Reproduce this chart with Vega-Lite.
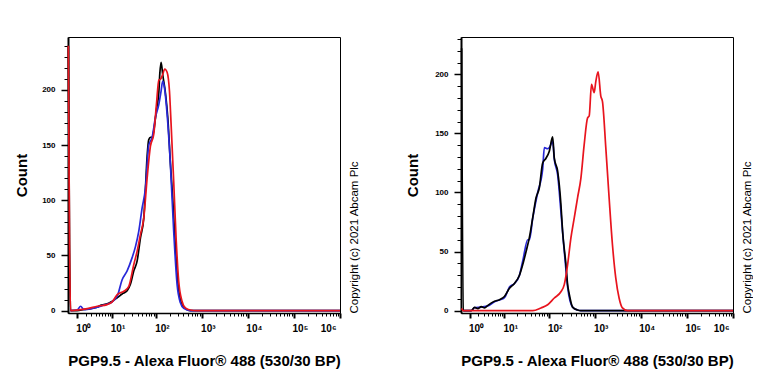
{
  "$schema": "https://vega.github.io/schema/vega-lite/v6.json",
  "background": "white",
  "padding": {"left": 14, "top": 36, "right": 0, "bottom": 0},
  "config": {
    "view": {"stroke": "#000", "strokeWidth": 1},
    "axis": {"grid": false, "domainColor": "#000", "tickColor": "#000", "labelColor": "#000", "titleColor": "#000", "labelFont": "Liberation Sans", "titleFont": "Liberation Sans"}
  },
  "datasets": {
    "left": [
      {"s":"black","x":0.27,"y":240},{"s":"black","x":0.35,"y":60},{"s":"black","x":0.42,"y":0},{"s":"black","x":0.98,"y":0},{"s":"black","x":1.77,"y":1},{"s":"black","x":2.86,"y":1.8},{"s":"black","x":3.56,"y":2.4},{"s":"black","x":4.39,"y":3},{"s":"black","x":5.36,"y":4.8},{"s":"black","x":6.5,"y":5.4},{"s":"black","x":7.86,"y":6.1},{"s":"black","x":10.4,"y":8.5},{"s":"black","x":13.6,"y":11.5},{"s":"black","x":17.7,"y":15},{"s":"black","x":19.4,"y":16},{"s":"black","x":23,"y":18},{"s":"black","x":27.4,"y":24},{"s":"black","x":32.5,"y":36},{"s":"black","x":38.6,"y":45},{"s":"black","x":45.7,"y":66},{"s":"black","x":54.2,"y":84},{"s":"black","x":59,"y":111},{"s":"black","x":64.2,"y":140},{"s":"black","x":69.8,"y":155},{"s":"black","x":75.9,"y":157},{"s":"black","x":82.6,"y":157},{"s":"black","x":89.8,"y":163},{"s":"black","x":102.8,"y":182},{"s":"black","x":116,"y":198},{"s":"black","x":122,"y":215},{"s":"black","x":130,"y":225},{"s":"black","x":141,"y":214},{"s":"black","x":162,"y":197},{"s":"black","x":182,"y":175},{"s":"black","x":208,"y":133},{"s":"black","x":233,"y":102},{"s":"black","x":267,"y":57},{"s":"black","x":315,"y":18},{"s":"black","x":372,"y":5.4},{"s":"black","x":478,"y":1},{"s":"black","x":565,"y":0},{"s":"black","x":1000000,"y":0},
      {"s":"blue","x":0.42,"y":0},{"s":"blue","x":0.98,"y":0.5},{"s":"blue","x":1.35,"y":3.9},{"s":"blue","x":1.77,"y":0.9},{"s":"blue","x":2.86,"y":1.5},{"s":"blue","x":4.39,"y":3},{"s":"blue","x":6.5,"y":5},{"s":"blue","x":9.47,"y":7},{"s":"blue","x":13.6,"y":13},{"s":"blue","x":17.7,"y":28},{"s":"blue","x":23,"y":36},{"s":"blue","x":29.8,"y":48},{"s":"blue","x":35.4,"y":58},{"s":"blue","x":42,"y":72},{"s":"blue","x":49.8,"y":93},{"s":"blue","x":59,"y":111},{"s":"blue","x":69.8,"y":150},{"s":"blue","x":82.6,"y":157},{"s":"blue","x":97.7,"y":175},{"s":"blue","x":116,"y":187},{"s":"blue","x":130,"y":199},{"s":"blue","x":141,"y":208},{"s":"blue","x":154,"y":202},{"s":"blue","x":176,"y":178},{"s":"blue","x":208,"y":132},{"s":"blue","x":245,"y":72},{"s":"blue","x":290,"y":24},{"s":"blue","x":343,"y":7},{"s":"blue","x":405,"y":2},{"s":"blue","x":565,"y":0},{"s":"blue","x":1000000,"y":0},
      {"s":"red","x":0.27,"y":240},{"s":"red","x":0.35,"y":60},{"s":"red","x":0.42,"y":0},{"s":"red","x":1.35,"y":0.9},{"s":"red","x":2.27,"y":1.8},{"s":"red","x":4.39,"y":3.9},{"s":"red","x":7.86,"y":5.4},{"s":"red","x":10.4,"y":7.9},{"s":"red","x":13.6,"y":14.5},{"s":"red","x":19.4,"y":17.5},{"s":"red","x":25.1,"y":22},{"s":"red","x":32.5,"y":41.8},{"s":"red","x":38.6,"y":53.9},{"s":"red","x":45.7,"y":69},{"s":"red","x":54.2,"y":84},{"s":"red","x":64.2,"y":120},{"s":"red","x":75.9,"y":149},{"s":"red","x":89.8,"y":160},{"s":"red","x":102.8,"y":187},{"s":"red","x":116,"y":209},{"s":"red","x":126,"y":209.7},{"s":"red","x":141,"y":214},{"s":"red","x":156,"y":219},{"s":"red","x":176,"y":216},{"s":"red","x":198,"y":199},{"s":"red","x":215,"y":169},{"s":"red","x":245,"y":117},{"s":"red","x":276,"y":66},{"s":"red","x":315,"y":26.6},{"s":"red","x":372,"y":8.5},{"s":"red","x":440,"y":2.4},{"s":"red","x":565,"y":0.5},{"s":"red","x":789,"y":0},{"s":"red","x":1000000,"y":0}
    ],
    "right": [
      {"s":"black","x":0.31,"y":222},{"s":"black","x":0.42,"y":0},{"s":"black","x":1.12,"y":0},{"s":"black","x":1.5,"y":2.8},{"s":"black","x":1.95,"y":1.7},{"s":"black","x":2.49,"y":3.4},{"s":"black","x":3.12,"y":2.3},{"s":"black","x":3.86,"y":4.5},{"s":"black","x":5.77,"y":7.9},{"s":"black","x":7.68,"y":9.3},{"s":"black","x":10.1,"y":12},{"s":"black","x":13.3,"y":19},{"s":"black","x":17.3,"y":23},{"s":"black","x":22.5,"y":30},{"s":"black","x":26.7,"y":39},{"s":"black","x":31.7,"y":50},{"s":"black","x":37.6,"y":62},{"s":"black","x":44.5,"y":78.5},{"s":"black","x":52.8,"y":95.5},{"s":"black","x":62.4,"y":104},{"s":"black","x":73.9,"y":125},{"s":"black","x":87.4,"y":129},{"s":"black","x":103.3,"y":135},{"s":"black","x":122.1,"y":147},{"s":"black","x":132.8,"y":129},{"s":"black","x":157,"y":118},{"s":"black","x":185,"y":90},{"s":"black","x":201.5,"y":67},{"s":"black","x":238,"y":39},{"s":"black","x":259,"y":22},{"s":"black","x":281,"y":14},{"s":"black","x":332,"y":3},{"s":"black","x":426,"y":0.5},{"s":"black","x":503,"y":0},{"s":"black","x":1000000,"y":0},
      {"s":"blue","x":0.42,"y":0},{"s":"blue","x":1.12,"y":0},{"s":"blue","x":1.5,"y":2.5},{"s":"blue","x":2.49,"y":3},{"s":"blue","x":3.86,"y":4},{"s":"blue","x":5.77,"y":7.5},{"s":"blue","x":7.68,"y":9},{"s":"blue","x":10.1,"y":11},{"s":"blue","x":13.3,"y":20},{"s":"blue","x":17.3,"y":23},{"s":"blue","x":22.5,"y":30},{"s":"blue","x":26.7,"y":42},{"s":"blue","x":34.5,"y":60},{"s":"blue","x":37.6,"y":60},{"s":"blue","x":44.5,"y":78},{"s":"blue","x":57.4,"y":100},{"s":"blue","x":73.9,"y":120},{"s":"blue","x":80.4,"y":138},{"s":"blue","x":95,"y":137},{"s":"blue","x":103.3,"y":138},{"s":"blue","x":122.1,"y":143},{"s":"blue","x":132.8,"y":128},{"s":"blue","x":157,"y":115},{"s":"blue","x":185,"y":84},{"s":"blue","x":208,"y":60},{"s":"blue","x":238,"y":35},{"s":"blue","x":259,"y":20},{"s":"blue","x":332,"y":3},{"s":"blue","x":426,"y":0.5},{"s":"blue","x":503,"y":0},{"s":"blue","x":1000000,"y":0},
      {"s":"red","x":0.31,"y":2},{"s":"red","x":0.42,"y":0},{"s":"red","x":44.5,"y":0},{"s":"red","x":67.9,"y":2.3},{"s":"red","x":95,"y":5},{"s":"red","x":132.8,"y":10.7},{"s":"red","x":185,"y":16},{"s":"red","x":219,"y":22},{"s":"red","x":259,"y":39},{"s":"red","x":305.5,"y":61.6},{"s":"red","x":361,"y":78.5},{"s":"red","x":426,"y":95.5},{"s":"red","x":503,"y":112},{"s":"red","x":594,"y":140.7},{"s":"red","x":701,"y":163},{"s":"red","x":762,"y":164.7},{"s":"red","x":856,"y":191.5},{"s":"red","x":977,"y":184.5},{"s":"red","x":1062,"y":194},{"s":"red","x":1192,"y":202},{"s":"red","x":1362,"y":181.6},{"s":"red","x":1481,"y":177},{"s":"red","x":1747,"y":138},{"s":"red","x":2062,"y":95.5},{"s":"red","x":2434,"y":56},{"s":"red","x":2873,"y":27.7},{"s":"red","x":3392,"y":10.7},{"s":"red","x":4004,"y":2.3},{"s":"red","x":5134,"y":0},{"s":"red","x":1000000,"y":0}
    ]
  },
  "spacing": 45,
  "hconcat": [
    {
      "width": 272, "height": 276,
      "data": {"name": "left"},
      "encoding": {
        "x": {"field": "x", "type": "quantitative",
          "scale": {"type": "symlog", "constant": 1, "domain": [0.25, 1000000], "nice": false},
          "axis": {"values": [1,2,3,4,5,6,7,8,9,10,20,30,40,50,60,70,80,90,100,200,300,400,500,600,700,800,900,1000,2000,3000,4000,5000,6000,7000,8000,9000,10000,20000,30000,40000,50000,60000,70000,80000,90000,100000,200000,300000,400000,500000,600000,700000,800000,900000,1000000],
            "labelExpr": "datum.value==1?'10⁰':datum.value==10?'10¹':datum.value==100?'10²':datum.value==1000?'10³':datum.value==10000?'10⁴':datum.value==100000?'10⁵':datum.value==1000000?'10⁶':''",
            "labelOverlap": false, "labelBound": false,
            "labelFontSize": 10, "labelFontWeight": "bold", "labelPadding": 5,
            "labelOffset": {"condition": {"test": "datum.value==1000000", "value": -4}, "value": 6},
            "tickSize": {"condition": {"test": "indexof([1,10,100,1000,10000,100000,1000000], datum.value) >= 0", "value": 5}, "value": 3},
            "tickWidth": {"condition": {"test": "indexof([1,10,100,1000,10000,100000,1000000], datum.value) >= 0", "value": 2}, "value": 1},
            "domainWidth": 1.5,
            "title": "PGP9.5 - Alexa Fluor® 488 (530/30 BP)", "titleFontSize": 15, "titleFontWeight": "bold", "titlePadding": 20}}
      },
      "layer": [
        {"transform": [{"filter": "datum.s=='black'"}], "mark": {"type": "line", "color": "#000000", "strokeWidth": 1.7, "interpolate": "monotone"},
          "encoding": {"y": {"field": "y", "type": "quantitative", "scale": {"domain": [-2.2, 248], "nice": false, "zero": false},
            "axis": {"values": [0,10,20,30,40,50,60,70,80,90,100,110,120,130,140,150,160,170,180,190,200,210,220,230,240],
              "labelExpr": "datum.value%50==0?datum.label:''", "labelFontSize": 8, "labelFontWeight": "bold", "labelPadding": 6,
              "tickSize": {"condition": {"test": "datum.value%50==0", "value": 7}, "value": 4},
              "tickWidth": {"condition": {"test": "datum.value%50==0", "value": 1.5}, "value": 1},
              "domainWidth": 2,
              "title": "Count", "titleFontSize": 15, "titleFontWeight": "bold", "titlePadding": 12}}}},
        {"transform": [{"filter": "datum.s=='blue'"}], "mark": {"type": "line", "color": "#2828d8", "strokeWidth": 1.7, "interpolate": "monotone"},
          "encoding": {"y": {"field": "y", "type": "quantitative", "axis": null}}},
        {"transform": [{"filter": "datum.s=='red'"}], "mark": {"type": "line", "color": "#e8141e", "strokeWidth": 1.7, "interpolate": "monotone"},
          "encoding": {"y": {"field": "y", "type": "quantitative",
            "axis": {"orient": "right", "ticks": false, "labels": false, "domain": false, "title": "Copyright (c) 2021 Abcam Plc",
              "titleAngle": 270, "titleAnchor": "start", "titleAlign": "left", "titleBaseline": "top", "titlePadding": 8,
              "titleFontSize": 11.5, "titleFontWeight": "normal"}}}}
      ],
      "resolve": {"axis": {"y": "independent"}}
    },
    {
      "width": 272, "height": 276,
      "data": {"name": "right"},
      "encoding": {
        "x": {"field": "x", "type": "quantitative",
          "scale": {"type": "symlog", "constant": 1, "domain": [0.27, 1000000], "nice": false},
          "axis": {"values": [1,2,3,4,5,6,7,8,9,10,20,30,40,50,60,70,80,90,100,200,300,400,500,600,700,800,900,1000,2000,3000,4000,5000,6000,7000,8000,9000,10000,20000,30000,40000,50000,60000,70000,80000,90000,100000,200000,300000,400000,500000,600000,700000,800000,900000,1000000],
            "labelExpr": "datum.value==1?'10⁰':datum.value==10?'10¹':datum.value==100?'10²':datum.value==1000?'10³':datum.value==10000?'10⁴':datum.value==100000?'10⁵':datum.value==1000000?'10⁶':''",
            "labelOverlap": false, "labelBound": false,
            "labelFontSize": 10, "labelFontWeight": "bold", "labelPadding": 5,
            "labelOffset": {"condition": {"test": "datum.value==1000000", "value": -4}, "value": 6},
            "tickSize": {"condition": {"test": "indexof([1,10,100,1000,10000,100000,1000000], datum.value) >= 0", "value": 5}, "value": 3},
            "tickWidth": {"condition": {"test": "indexof([1,10,100,1000,10000,100000,1000000], datum.value) >= 0", "value": 2}, "value": 1},
            "domainWidth": 1.5,
            "title": "PGP9.5 - Alexa Fluor® 488 (530/30 BP)", "titleFontSize": 15, "titleFontWeight": "bold", "titlePadding": 20}}
      },
      "layer": [
        {"transform": [{"filter": "datum.s=='blue'"}], "mark": {"type": "line", "color": "#2828d8", "strokeWidth": 1.7, "interpolate": "monotone"},
          "encoding": {"y": {"field": "y", "type": "quantitative", "scale": {"domain": [-2, 231.6], "nice": false, "zero": false},
            "axis": {"values": [0,10,20,30,40,50,60,70,80,90,100,110,120,130,140,150,160,170,180,190,200,210,220,230],
              "labelExpr": "datum.value%50==0?datum.label:''", "labelFontSize": 8, "labelFontWeight": "bold", "labelPadding": 6,
              "tickSize": {"condition": {"test": "datum.value%50==0", "value": 7}, "value": 4},
              "tickWidth": {"condition": {"test": "datum.value%50==0", "value": 1.5}, "value": 1},
              "domainWidth": 2,
              "title": "Count", "titleFontSize": 15, "titleFontWeight": "bold", "titlePadding": 14}}}},
        {"transform": [{"filter": "datum.s=='black'"}], "mark": {"type": "line", "color": "#000000", "strokeWidth": 1.7, "interpolate": "monotone"},
          "encoding": {"y": {"field": "y", "type": "quantitative", "axis": null}}},
        {"transform": [{"filter": "datum.s=='red'"}], "mark": {"type": "line", "color": "#e8141e", "strokeWidth": 1.7, "interpolate": "monotone"},
          "encoding": {"y": {"field": "y", "type": "quantitative",
            "axis": {"orient": "right", "ticks": false, "labels": false, "domain": false, "title": "Copyright (c) 2021 Abcam Plc",
              "titleAngle": 270, "titleAnchor": "start", "titleAlign": "left", "titleBaseline": "top", "titlePadding": 8,
              "titleFontSize": 11.5, "titleFontWeight": "normal"}}}}
      ],
      "resolve": {"axis": {"y": "independent"}}
    }
  ]
}
